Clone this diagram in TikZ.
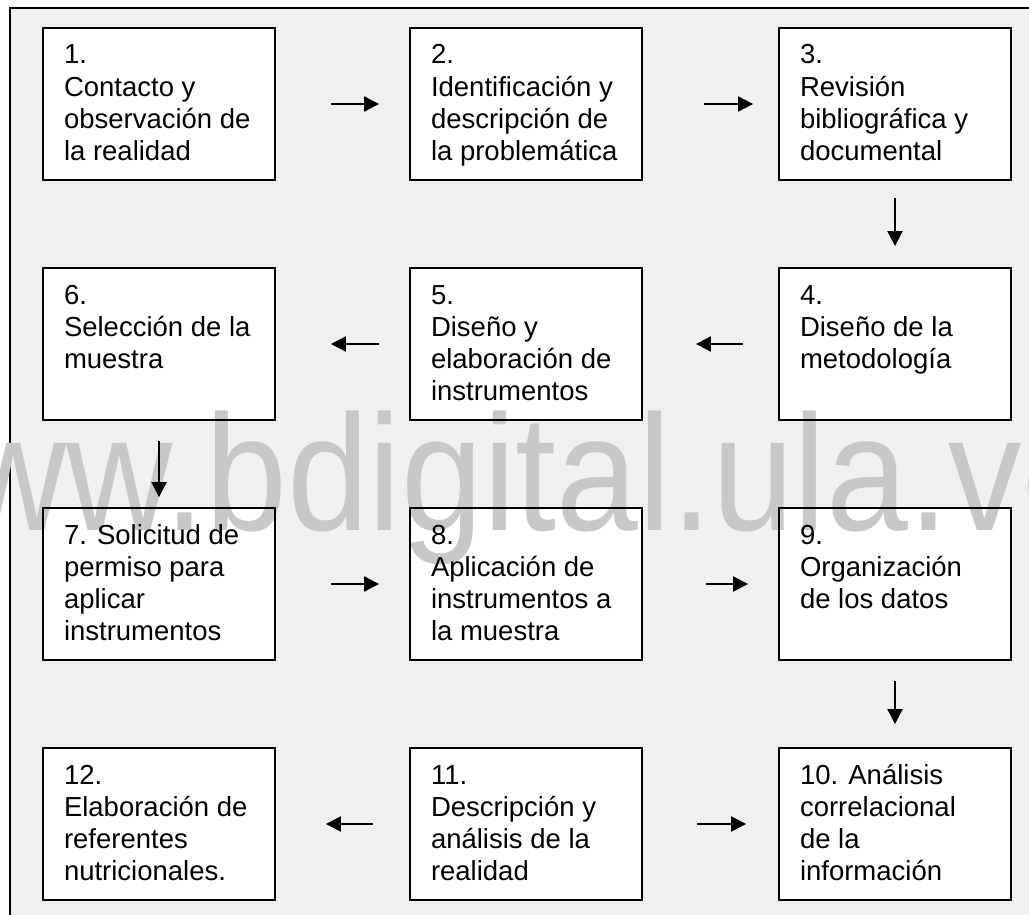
\documentclass[tikz,border=0pt]{standalone}
\usepackage{fontspec}
\setmainfont{Liberation Sans}
\usetikzlibrary{arrows.meta}

\definecolor{fondo}{RGB}{240,240,240}
\definecolor{marca}{RGB}{200,200,200}

\pgfdeclarelayer{capafondo}
\pgfdeclarelayer{capamarca}
\pgfsetlayers{capafondo,capamarca,main}

% texto de cada paso, alineado arriba
\newcommand{\paso}[1]{\parbox[c][152pt][t]{190pt}{\raggedright\rule{0pt}{36pt}#1}}

\begin{document}
\begin{tikzpicture}[x=1pt,y=-1pt,
		caja/.style={draw,line width=1.8pt,minimum width=232pt,minimum height=152pt,
			inner sep=0pt,font=\fontsize{27.5}{32.2}\selectfont},
		flecha/.style={line width=2pt,-{Triangle[length=15pt,width=15pt]}}]
	\useasboundingbox (0,0) rectangle (1029,915);
	\clip (0,0) rectangle (1029,915);

	% Los pasos
	\node[caja] (p1) at (159,104) {\paso{1.\\Contacto y\\observación de\\la realidad}};
	\node[caja] (p2) at (526,104) {\paso{2.\\Identificación y\\descripción de\\la problemática}};
	\node[caja] (p3) at (895,104) {\paso{3.\\Revisión\\bibliográfica y\\documental}};
	\node[caja] (p4) at (895,344) {\paso{4.\\Diseño de la\\metodología}};
	\node[caja] (p5) at (526,344) {\paso{5.\\Diseño y\\elaboración de\\instrumentos}};
	\node[caja] (p6) at (159,344) {\paso{6.\\Selección de la\\muestra}};
	\node[caja] (p7) at (159,584) {\paso{7. Solicitud de\\permiso para\\aplicar\\instrumentos}};
	\node[caja] (p8) at (526,584) {\paso{8.\\Aplicación de\\instrumentos a\\la muestra}};
	\node[caja] (p9) at (895,584) {\paso{9.\\Organización\\de los datos}};
	\node[caja] (p10) at (895,824) {\paso{10. Análisis\\correlacional\\de la\\información}};
	\node[caja] (p11) at (526,824) {\paso{11.\\Descripción y\\análisis de la\\realidad}};
	\node[caja] (p12) at (159,824) {\paso{12.\\Elaboración de\\referentes\\nutricionales.}};

	% El marco y el relleno de las cajas
	\begin{pgfonlayer}{capafondo}
		\draw[fill=fondo,line width=1.5pt] (10,8) rectangle (1040,925);
		\foreach \n in {1,...,12}
			\fill[white] (p\n.north west) rectangle (p\n.south east);
	\end{pgfonlayer}

	% La marca de agua
	\begin{pgfonlayer}{capamarca}
		\node[anchor=base west,inner sep=0pt,text=marca,xscale=0.891,
			font=\fontsize{165}{165}\selectfont] (web) at (-146,530) {www.bdigital.ula.ve};
	\end{pgfonlayer}

	% Las flechas
	\draw[flecha,shorten <=55pt,shorten >=30pt] (p1) -- (p2);
	\draw[flecha,shorten <=61pt,shorten >=25pt] (p2) -- (p3);
	\draw[flecha,shorten <=17pt,shorten >=21pt] (p3) -- (p4);
	\draw[flecha,shorten <=35pt,shorten >=53pt] (p4) -- (p5);
	\draw[flecha,shorten <=30pt,shorten >=55pt] (p5) -- (p6);
	\draw[flecha,shorten <=20pt,shorten >=10pt] (p6) -- (p7);
	\draw[flecha,shorten <=55pt,shorten >=30pt] (p7) -- (p8);
	\draw[flecha,shorten <=63pt,shorten >=30pt] (p8) -- (p9);
	\draw[flecha,shorten <=20pt,shorten >=23pt] (p9) -- (p10);
	\draw[flecha,shorten <=36pt,shorten >=50pt] (p11) -- (p12);
	\draw[flecha,shorten <=54pt,shorten >=32pt] (p11) -- (p10);
\end{tikzpicture}
\end{document}
